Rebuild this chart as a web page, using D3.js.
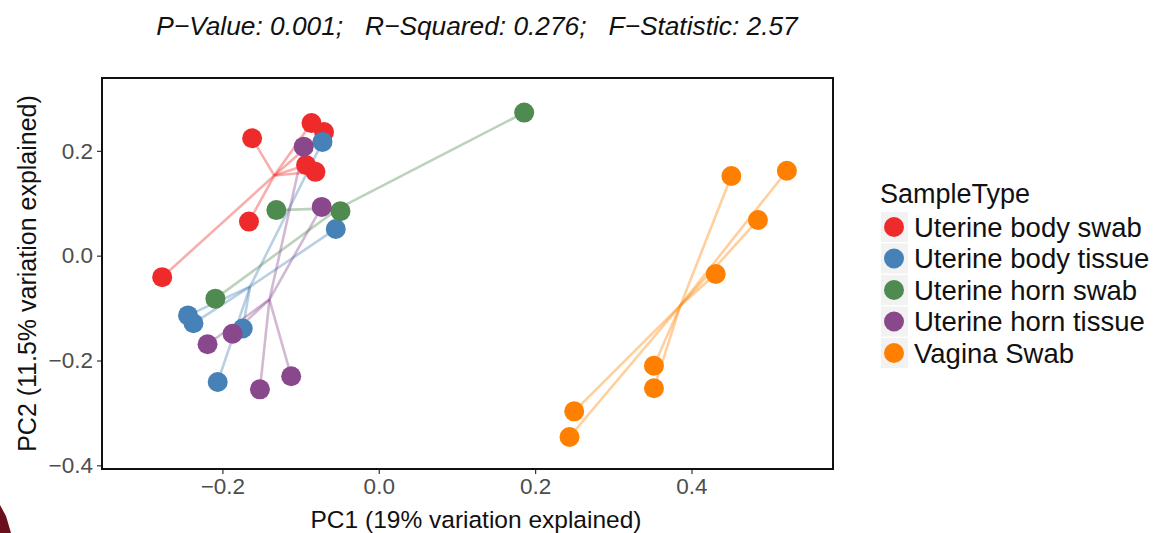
<!DOCTYPE html>
<html>
<head>
<meta charset="utf-8">
<script src="https://cdn.jsdelivr.net/npm/d3@7"></script>
<style>
  body { margin: 0; background: #fff; }
  text { font-family: "Liberation Sans", Arial, sans-serif; }
</style>
</head>
<body>
<svg id="chart"></svg>
<script>
const width = 1168;
const height = 533;

// Data (PC1, PC2) per sample type
const groups = ['Uterine body swab', 'Uterine body tissue', 'Uterine horn swab', 'Uterine horn tissue', 'Vagina Swab'];
const colors = ['#ee2a2b', '#4682b7', '#4f8a50', '#8a488c', '#ff8000'];

const bodySwab = [[-0.162, 0.224], [-0.086, 0.253], [-0.070, 0.236], [-0.093, 0.173], [-0.081, 0.160], [-0.166, 0.065], [-0.277, -0.041]];
const bodyTissue = [[-0.072, 0.217], [-0.055, 0.051], [-0.244, -0.114], [-0.237, -0.129], [-0.174, -0.139], [-0.206, -0.241]];
const hornSwab = [[0.186, 0.273], [-0.131, 0.087], [-0.049, 0.085], [-0.209, -0.082]];
const hornTissue = [[-0.096, 0.208], [-0.073, 0.093], [-0.219, -0.169], [-0.187, -0.149], [-0.152, -0.255], [-0.112, -0.230]];
const vaginaSwab = [[0.451, 0.152], [0.522, 0.162], [0.485, 0.068], [0.431, -0.035], [0.352, -0.210], [0.352, -0.253], [0.250, -0.297], [0.244, -0.346]];

const xTicks = [-0.2, 0.0, 0.2, 0.4];
const yTicks = [-0.4, -0.2, 0.0, 0.2];
const title = 'P\u2212Value: 0.001;   R\u2212Squared: 0.276;   F\u2212Statistic: 2.57';

const series = [bodySwab, bodyTissue, hornSwab, hornTissue, vaginaSwab];

// Panel box
const panel = { left: 102, right: 833, top: 78, bottom: 469 };

const x = d3.scaleLinear().domain([-0.354, 0.581]).range([panel.left, panel.right]);
const y = d3.scaleLinear().domain([-0.407, 0.339]).range([panel.bottom, panel.top]);

const svg = d3.select('#chart')
    .attr('width', width)
    .attr('height', height);

// Title
svg.append('text')
    .attr('x', 477)
    .attr('y', 35)
    .attr('text-anchor', 'middle')
    .attr('font-size', 26.3)
    .attr('font-style', 'italic')
    .attr('fill', '#111')
    .style('white-space', 'pre')
    .text(title);

// Spider lines to group centroid
const lineGroup = svg.append('g').attr('class', 'spiders');
series.forEach((pts, i) => {
    const cx = d3.mean(pts, d => d[0]);
    const cy = d3.mean(pts, d => d[1]);
    lineGroup.selectAll(null)
        .data(pts)
        .enter()
        .append('line')
        .attr('x1', x(cx))
        .attr('y1', y(cy))
        .attr('x2', d => x(d[0]))
        .attr('y2', d => y(d[1]))
        .attr('stroke', colors[i])
        .attr('stroke-opacity', 0.38)
        .attr('stroke-width', 2.6);
});

// Points
const pointGroup = svg.append('g').attr('class', 'points');
series.forEach((pts, i) => {
    pointGroup.selectAll(null)
        .data(pts)
        .enter()
        .append('circle')
        .attr('cx', d => x(d[0]))
        .attr('cy', d => y(d[1]))
        .attr('r', 10)
        .attr('fill', colors[i]);
});

// Axes
const xAxis = svg.append('g')
    .attr('transform', `translate(0,${panel.bottom})`)
    .call(d3.axisBottom(x).tickValues(xTicks).tickFormat(d3.format('.1f')).tickSize(5).tickPadding(4));
const yAxis = svg.append('g')
    .attr('transform', `translate(${panel.left},0)`)
    .call(d3.axisLeft(y).tickValues(yTicks).tickFormat(d3.format('.1f')).tickSize(5).tickPadding(4));

[xAxis, yAxis].forEach(a => {
    a.select('.domain').remove();
    a.selectAll('.tick line').attr('stroke', '#333').attr('stroke-width', 1.2);
    a.selectAll('.tick text')
        .attr('fill', '#4d4d4d')
        .attr('font-size', 22.5)
        .style('font-family', '"Liberation Sans", Arial, sans-serif');
});
// ggplot style minus sign
svg.selectAll('.tick text').text(function () { return d3.select(this).text().replace('-', '\u2212'); });

// Panel border
svg.append('rect')
    .attr('x', panel.left)
    .attr('y', panel.top)
    .attr('width', panel.right - panel.left)
    .attr('height', panel.bottom - panel.top)
    .attr('fill', 'none')
    .attr('stroke', '#111')
    .attr('stroke-width', 2);

// Axis titles
svg.append('text')
    .attr('x', 476)
    .attr('y', 528)
    .attr('text-anchor', 'middle')
    .attr('font-size', 24.5)
    .attr('fill', '#111')
    .text('PC1 (19% variation explained)');

svg.append('text')
    .attr('transform', `translate(36,${(panel.top + panel.bottom) / 2}) rotate(-90)`)
    .attr('text-anchor', 'middle')
    .attr('font-size', 25)
    .attr('fill', '#111')
    .text('PC2 (11.5% variation explained)');

// Legend
const legend = svg.append('g').attr('transform', 'translate(880,0)');
legend.append('text')
    .attr('x', 0)
    .attr('y', 203)
    .attr('font-size', 27)
    .attr('fill', '#111')
    .text('SampleType');

const item = legend.selectAll('.item')
    .data(groups)
    .enter()
    .append('g')
    .attr('class', 'item')
    .attr('transform', (d, i) => `translate(0,${227 + i * 31.5})`);
item.append('rect')
    .attr('x', 1)
    .attr('y', -15)
    .attr('width', 27)
    .attr('height', 30)
    .attr('fill', '#f2f2f2');
item.append('circle')
    .attr('cx', 14)
    .attr('cy', 0)
    .attr('r', 10)
    .attr('fill', (d, i) => colors[i]);
item.append('text')
    .attr('x', 34)
    .attr('y', 9.5)
    .attr('font-size', 27.5)
    .attr('fill', '#111')
    .text(d => d);

// Small dark shape at bottom-left edge of the image
svg.append('path')
    .attr('d', 'M0,505 L6,516 L11,533 L0,533 Z')
    .attr('fill', '#6a0f1c');
</script>
</body>
</html>
